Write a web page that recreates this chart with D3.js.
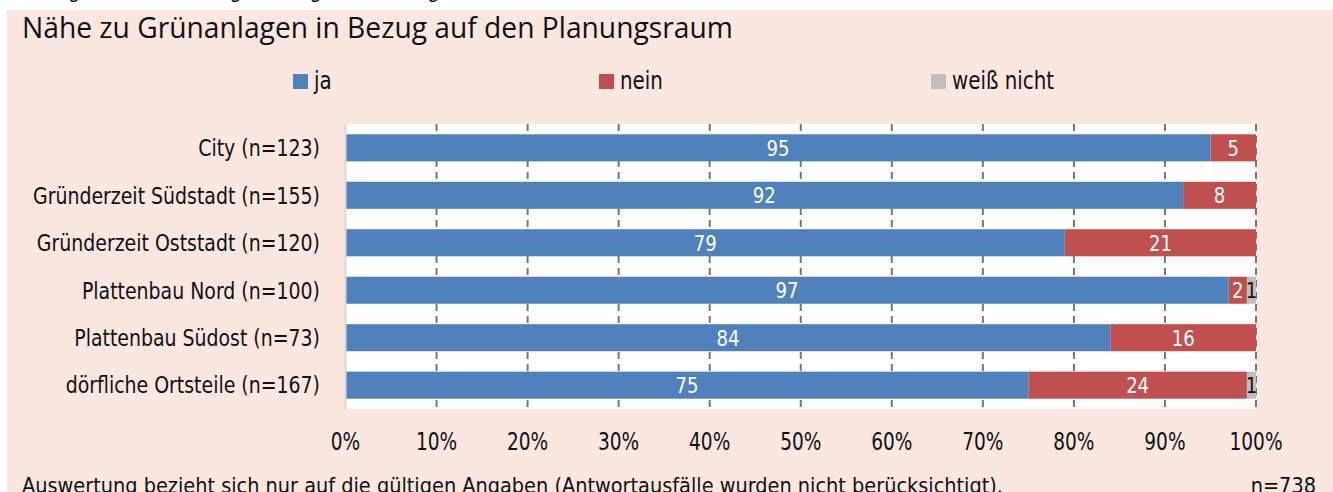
<!DOCTYPE html>
<html>
<head>
<meta charset="utf-8">
<script src="https://cdn.jsdelivr.net/npm/d3@7"></script>
<style>
  html, body { margin: 0; padding: 0; background: #fff; }
  svg { display: block; }
  text { font-family: "DejaVu Sans Condensed", "Liberation Sans", sans-serif; }
</style>
</head>
<body>
<svg id="chart"></svg>
<script>
const width = 1333;
const height = 492;

// Daten
const categories = [
    "City (n=123)",
    "Gründerzeit Südstadt (n=155)",
    "Gründerzeit Oststadt (n=120)",
    "Plattenbau Nord (n=100)",
    "Plattenbau Südost (n=73)",
    "dörfliche Ortsteile (n=167)"
];
const seriesNames = ["ja", "nein", "weiß nicht"];
const ja = [95, 92, 79, 97, 84, 75];
const nein = [5, 8, 21, 2, 16, 24];
const weissNicht = [0, 0, 0, 1, 0, 1];
const tickValues = [0, 10, 20, 30, 40, 50, 60, 70, 80, 90, 100];

const colors = ["#4f81bd", "#c0504d", "#bfbfbf"];
const labelColors = ["#fff", "#fff", "#111"];

const rows = categories.map((c, i) => ({ cat: c, ja: ja[i], nein: nein[i], weiss: weissNicht[i] }));
const keys = ["ja", "nein", "weiss"];

const svg = d3.select("#chart")
    .attr("width", width)
    .attr("height", height);

// schmaler setzen: alle Texte einer Gruppe um denselben Faktor stauchen
function condense(sel, k) {
    sel.each(function () {
        const w = this.getComputedTextLength();
        this.setAttribute("textLength", w * k);
        this.setAttribute("lengthAdjust", "spacingAndGlyphs");
    });
}
function factorFor(node, target) {
    return target / node.getComputedTextLength();
}

// Hintergrund
svg.append("rect")
    .attr("x", 7).attr("y", 10)
    .attr("width", width - 7).attr("height", height - 10)
    .attr("fill", "#f9e7e0");

// abgeschnittene Zeile oben (nur Unterlängen sichtbar)
const cutLine = "Abbildung 35: Nähe zu Grünanlagen in Bezug auf den Planungsraum";
const cut = svg.append("text")
    .attr("y", -1)
    .style("font-family", "'Open Sans', sans-serif")
    .style("font-size", "14px")
    .style("font-weight", "bold")
    .attr("fill", "#111")
    .text(cutLine);
{
    const n = cut.node();
    const i1 = cutLine.indexOf("g"), i2 = cutLine.lastIndexOf("g");
    const p1 = n.getSubStringLength(0, i1), p2 = n.getSubStringLength(0, i2);
    const s = (433 - 73) / (p2 - p1);
    cut.style("font-size", (14 * s) + "px").attr("x", 73 - p1 * s - 3);
}

// Titel
const title = svg.append("text")
    .attr("x", 22).attr("y", 38)
    .style("font-family", "'Open Sans', sans-serif")
    .style("font-size", "26px")
    .style("font-weight", "500")
    .attr("fill", "#111")
    .text("Nähe zu Grünanlagen in Bezug auf den Planungsraum");
title.style("font-size", (26 * 711 / title.node().getComputedTextLength()) + "px");

// Skalen
const x = d3.scaleLinear().domain([0, 100]).range([345.5, 1256]);
const y = d3.scaleBand().domain(categories).range([124, 409])
    .paddingInner(0.43).paddingOuter(0.217);

// Plotfläche
svg.append("rect")
    .attr("x", x(0)).attr("y", 124)
    .attr("width", x(100) - x(0)).attr("height", 409 - 124)
    .attr("fill", "#fff");

// Gitterlinien
svg.append("g")
    .selectAll("line")
    .data(tickValues.slice(1))
    .join("line")
    .attr("x1", d => x(d)).attr("x2", d => x(d))
    .attr("y1", 124).attr("y2", 409)
    .attr("stroke", "#777")
    .attr("stroke-width", 2)
    .attr("stroke-dasharray", "7,5");

// Balken
const stack = d3.stack().keys(keys)(rows);

const layers = svg.append("g")
    .selectAll("g")
    .data(stack)
    .join("g")
    .attr("fill", (d, i) => colors[i]);

layers.selectAll("rect")
    .data(d => d.filter(s => s[1] - s[0] > 0))
    .join("rect")
    .attr("x", d => x(d[0]))
    .attr("y", d => y(d.data.cat))
    .attr("width", d => x(d[1]) - x(d[0]))
    .attr("height", y.bandwidth());

// Y-Achsenlinie
svg.append("line")
    .attr("x1", x(0)).attr("x2", x(0))
    .attr("y1", 124).attr("y2", 409)
    .attr("stroke", "#d9d9d9")
    .attr("stroke-width", 2);

// Werte in den Balken
const valueLabels = svg.append("g");
stack.forEach((layer, li) => {
    valueLabels.append("g")
        .selectAll("text")
        .data(layer.filter(s => s[1] - s[0] > 0))
        .join("text")
        .attr("x", d => (x(d[0]) + x(d[1])) / 2)
        .attr("y", d => y(d.data.cat) + y.bandwidth() / 2)
        .attr("dy", "0.36em")
        .attr("text-anchor", "middle")
        .style("font-size", "22px")
        .style("font-weight", "300")
        .attr("fill", labelColors[li])
        .text(d => d[1] - d[0]);
});
{
    const all = valueLabels.selectAll("text");
    const ref = all.filter(d => d[1] - d[0] === 24).node();
    condense(all, factorFor(ref, 23));
}

// Kategorien
const catLabels = svg.append("g")
    .selectAll("text")
    .data(categories)
    .join("text")
    .attr("x", 320)
    .attr("y", d => y(d) + y.bandwidth() / 2)
    .attr("dy", "0.36em")
    .attr("text-anchor", "end")
    .style("font-size", "23px")
    .attr("fill", "#111")
    .text(d => d);
condense(catLabels, factorFor(catLabels.nodes()[1], 287));

// X-Achse
const tickLabels = svg.append("g")
    .selectAll("text")
    .data(tickValues)
    .join("text")
    .attr("x", d => x(d))
    .attr("y", 450)
    .attr("text-anchor", "middle")
    .style("font-size", "25px")
    .attr("fill", "#111")
    .text(d => d + "%");
condense(tickLabels, factorFor(tickLabels.nodes()[10], 53));

// Legende
const legendX = [293, 599, 931];
const legend = svg.append("g")
    .selectAll("g")
    .data(seriesNames)
    .join("g")
    .attr("transform", (d, i) => `translate(${legendX[i]}, 74)`);

legend.append("rect")
    .attr("width", 15).attr("height", 15)
    .attr("fill", (d, i) => colors[i]);

const legendText = legend.append("text")
    .attr("x", 21).attr("y", 15)
    .style("font-size", "24px")
    .attr("fill", "#111")
    .text(d => d);
condense(legendText, factorFor(legendText.nodes()[2], 102));

// Fußzeile
const foot = svg.append("text")
    .attr("x", 22).attr("y", 493)
    .style("font-size", "22px")
    .attr("fill", "#111")
    .text("Auswertung bezieht sich nur auf die gültigen Angaben (Antwortausfälle wurden nicht berücksichtigt).");
const footN = svg.append("text")
    .attr("x", 1316).attr("y", 493)
    .attr("text-anchor", "end")
    .style("font-size", "22px")
    .attr("fill", "#111")
    .text("n=738");
const kFoot = factorFor(foot.node(), 981);
condense(foot, kFoot);
condense(footN, kFoot);
</script>
</body>
</html>
